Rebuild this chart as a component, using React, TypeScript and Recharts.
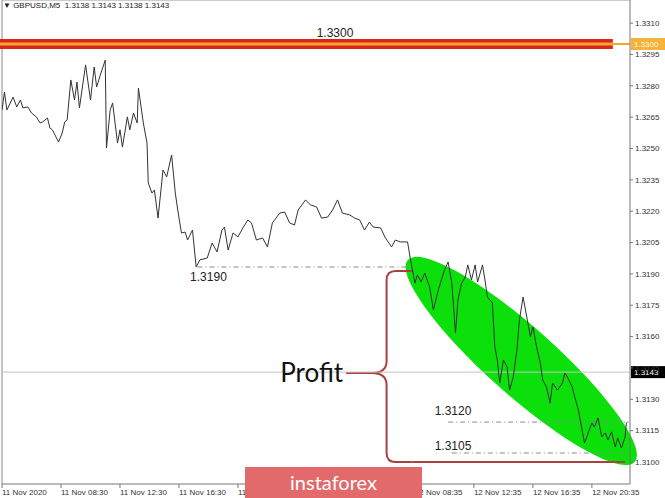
import React from 'react';
import { ComposedChart, Line, XAxis, YAxis, ReferenceLine, ReferenceArea, ReferenceDot } from 'recharts';

const headerText = 'GBPUSD,M5  1.3138 1.3143 1.3138 1.3143';

const timeTicks = [0, 48, 96, 144, 192, 240, 288, 336, 384, 432, 480];
const timeLabels = [
  '11 Nov 2020', '11 Nov 08:30', '11 Nov 12:30', '11 Nov 16:30', '11 Nov 20:30',
  '12 Nov 00:30', '12 Nov 04:35', '12 Nov 08:35', '12 Nov 12:35', '12 Nov 16:35', '12 Nov 20:35',
];

const priceTicks = [1.31, 1.3115, 1.313, 1.3145, 1.316, 1.3175, 1.319, 1.3205, 1.322, 1.3235, 1.325, 1.3265, 1.328, 1.3295, 1.331];

const bars = [
  0, 2, 4, 9, 12, 15, 17, 21, 24, 28,
  31, 33, 37, 39, 41, 46, 49, 51, 53, 56,
  59, 61, 63, 68, 72, 75, 77, 80, 84, 85,
  88, 90, 94, 96, 98, 102, 104, 107, 110, 111,
  115, 118, 119, 122, 124, 127, 131, 134, 138, 141,
  143, 146, 149, 151, 155, 158, 161, 167, 171, 175,
  179, 181, 184, 188, 192, 196, 200, 203, 207, 212,
  216, 220, 226, 230, 234, 238, 241, 247, 251, 256,
  260, 265, 269, 273, 277, 283, 287, 291, 295, 299,
  302, 308, 312, 317, 320, 324, 330, 332, 334, 336,
  338, 341, 344, 348, 351, 355, 358, 360, 363, 366,
  369, 371, 374, 377, 379, 382, 385, 387, 391, 393,
  395, 399, 401, 403, 405, 408, 411, 413, 416, 419,
  421, 424, 427, 430, 432, 435, 438, 440, 443, 446,
  448, 452, 456, 458, 460, 464, 466, 469, 472, 474,
  477, 480, 482, 485, 488, 491, 493, 496, 499, 501,
  504, 507, 508, 509,
];

const closes = [
  1.32684, 1.32770, 1.32684, 1.32746, 1.32699, 1.32732, 1.32694, 1.32699, 1.32670, 1.32651,
  1.32622, 1.32627, 1.32646, 1.32598, 1.32589, 1.32531, 1.32574, 1.32627, 1.32636, 1.32828,
  1.32732, 1.32818, 1.32694, 1.32900, 1.32732, 1.32890, 1.32794, 1.32852, 1.32923, 1.32502,
  1.32684, 1.32718, 1.32526, 1.32589, 1.32507, 1.32651, 1.32589, 1.32670, 1.32622, 1.32789,
  1.32622, 1.32526, 1.32335, 1.32287, 1.32301, 1.32167, 1.32397, 1.32364, 1.32469, 1.32287,
  1.32206, 1.32096, 1.32100, 1.32062, 1.32110, 1.31933, 1.31967, 1.31976, 1.32048, 1.32005,
  1.32110, 1.32124, 1.32014, 1.32096, 1.32077, 1.32120, 1.32158, 1.32144, 1.32062, 1.32072,
  1.32029, 1.32144, 1.32191, 1.32196, 1.32144, 1.32134, 1.32206, 1.32254, 1.32230, 1.32220,
  1.32167, 1.32172, 1.32206, 1.32254, 1.32191, 1.32182, 1.32167, 1.32158, 1.32110, 1.32148,
  1.32124, 1.32120, 1.32072, 1.32029, 1.32062, 1.32053, 1.32053, 1.31981, 1.31919, 1.31856,
  1.31895, 1.31861, 1.31904, 1.31837, 1.31727, 1.31823, 1.31880, 1.31919, 1.31957, 1.31856,
  1.31617, 1.31775, 1.31856, 1.31885, 1.31943, 1.31871, 1.31943, 1.31861, 1.31943, 1.31871,
  1.31789, 1.31761, 1.31550, 1.31488, 1.31378, 1.31488, 1.31455, 1.31344, 1.31407, 1.31536,
  1.31679, 1.31789, 1.31694, 1.31598, 1.31646, 1.31550, 1.31474, 1.31392, 1.31359, 1.31282,
  1.31378, 1.31344, 1.31378, 1.31426, 1.31407, 1.31359, 1.31311, 1.31249, 1.31153, 1.31091,
  1.31139, 1.31187, 1.31167, 1.31211, 1.31120, 1.31139, 1.31105, 1.31144, 1.31072, 1.31115,
  1.31067, 1.31120, 1.31187, 1.31191,
];

const resistanceLevel = 1.33;
const resistanceLabel = '1.3300';
const lastPrice = 1.3143;
const lastPriceLabel = '1.3143';
const swingLow = 1.31933;
const swingLowLabel = '1.3190';
const target1 = 1.31191;
const target1Label = '1.3120';
const target2 = 1.31043;
const target2Label = '1.3105';
const profitBottom = 1.31;
const profitTop = 1.31914;
const profitTip = 1.31426;
const profitText = 'Profit';

const X_DOMAIN: [number, number] = [0, 511];
const Y_DOMAIN: [number, number] = [1.308947, 1.332105];

const data = bars.map((b, i) => ({ bar: b, close: closes[i] }));

const AXIS_FONT = "'Liberation Sans', Arial, sans-serif";

const XTick = (props: any) => {
  const { x, y, payload } = props;
  const idx = timeTicks.indexOf(payload.value);
  return (
    <text x={x} y={y} dy="0.71em" textAnchor="start" fontSize={8} fontFamily={AXIS_FONT} fill="#333">
      {timeLabels[idx]}
    </text>
  );
};

const EllipseShape = (props: any) => {
  const { x, y, width, height } = props;
  const cx = x + width / 2;
  const cy = y + height / 2;
  const ang = (Math.atan2(height, width) * 180) / Math.PI;
  const rx = Math.sqrt(width * width + height * height) / 2 + 3;
  return <ellipse cx={cx} cy={cy} rx={rx} ry={34} fill="#0be00b" transform={`rotate(${ang} ${cx} ${cy})`} />;
};

const BraceShape = (props: any) => {
  const { x, y, width, height } = props;
  const vx = x + width * 0.61;
  const tipY = y + height * 0.534;
  const r = 9;
  const d = [
    `M ${x + width} ${y}`,
    `L ${vx + r} ${y}`,
    `Q ${vx} ${y} ${vx} ${y + r}`,
    `L ${vx} ${tipY - 12}`,
    `Q ${vx} ${tipY} ${vx - 15} ${tipY}`,
    `L ${x} ${tipY}`,
    `M ${vx - 15} ${tipY}`,
    `Q ${vx} ${tipY} ${vx} ${tipY + 12}`,
    `L ${vx} ${y + height - r}`,
    `Q ${vx} ${y + height} ${vx + r} ${y + height}`,
    `L ${x + width} ${y + height}`,
  ].join(' ');
  return <path d={d} fill="none" stroke="#a9423f" strokeWidth={2} />;
};

const AxisBox = (bg: string, fg: string, text: string) => (props: any) => {
  const vb = props.viewBox || {};
  const right = (vb.x || 0) + (vb.width || 0);
  const cy = vb.y || 0;
  return (
    <g>
      <rect x={right + 1} y={cy - 6} width={34} height={12} fill={bg} />
      <text x={right + 4} y={cy + 3} fontSize={8} fontFamily={AXIS_FONT} fill={fg}>
        {text}
      </text>
    </g>
  );
};

const dashStyle = '5 3 1 3';
const labelFont = "'Liberation Sans', Arial, sans-serif";

export default function App() {
  return (
    <div style={{ position: 'absolute', left: 0, top: 0, width: 665, height: 498, background: '#fff' }}>
      <ComposedChart
        width={665}
        height={498}
        data={data}
        margin={{ top: 0, right: 0, bottom: 0, left: 2 }}
      >
        <XAxis
          dataKey="bar"
          type="number"
          domain={X_DOMAIN}
          ticks={timeTicks}
          interval={0}
          height={14}
          tickSize={4}
          tickMargin={1}
          tick={<XTick />}
          stroke="#777"
          allowDataOverflow
        />
        <YAxis
          orientation="right"
          type="number"
          domain={Y_DOMAIN}
          ticks={priceTicks}
          interval={0}
          width={35}
          tickSize={3}
          tickMargin={2}
          tickFormatter={(v: number) => v.toFixed(4)}
          tick={{ fontSize: 8, fill: '#333', fontFamily: AXIS_FONT }}
          stroke="#777"
          allowDataOverflow
        />
        <ReferenceLine x={0} stroke="#888" strokeWidth={1} />
        <ReferenceLine y={Y_DOMAIN[1]} stroke="#999" strokeWidth={1} />

        <ReferenceArea
          x1={332}
          x2={513}
          y1={1.3101}
          y2={1.31957}
          ifOverflow="visible"
          shape={<EllipseShape />}
        />

        <ReferenceLine y={lastPrice} stroke="#c4c4c4" strokeWidth={1} label={AxisBox('#000', '#fff', lastPriceLabel)} />

        <ReferenceLine
          segment={[{ x: 159, y: swingLow }, { x: 334, y: swingLow }]}
          stroke="#8a8a8a"
          strokeDasharray={dashStyle}
        />
        <ReferenceLine
          segment={[{ x: 363, y: target1 }, { x: 510, y: target1 }]}
          stroke="#8a8a8a"
          strokeDasharray={dashStyle}
        />
        <ReferenceLine
          segment={[{ x: 366, y: target2 }, { x: 509, y: target2 }]}
          stroke="#8a8a8a"
          strokeDasharray={dashStyle}
        />

        <Line
          dataKey="close"
          type="linear"
          stroke="#333"
          strokeWidth={1}
          dot={false}
          isAnimationActive={false}
        />

        <ReferenceArea
          x1={280}
          x2={334}
          y1={profitBottom}
          y2={profitTop}
          ifOverflow="visible"
          shape={<BraceShape />}
        />
        <ReferenceLine
          segment={[{ x: 334, y: profitBottom }, { x: 507, y: profitBottom }]}
          stroke="#a9423f"
          strokeWidth={2}
        />

        <ReferenceLine
          segment={[{ x: -2, y: resistanceLevel }, { x: 497, y: resistanceLevel }]}
          stroke="#d9261c"
          strokeWidth={10}
          ifOverflow="visible"
        />
        <ReferenceLine
          y={resistanceLevel}
          stroke="#f5a623"
          strokeWidth={2}
          label={AxisBox('#f4b43c', '#fff4dc', resistanceLabel)}
        />
        <ReferenceLine
          segment={[{ x: -2, y: resistanceLevel }, { x: 497, y: resistanceLevel }]}
          stroke="#f7a52c"
          strokeWidth={3}
          ifOverflow="visible"
        />

        <ReferenceDot
          x={271}
          y={resistanceLevel}
          r={0}
          fill="none"
          stroke="none"
          label={{ value: resistanceLabel, position: 'top', offset: 7, fontSize: 12, fill: '#222', fontFamily: labelFont }}
        />
        <ReferenceDot
          x={168}
          y={swingLow}
          r={0}
          fill="none"
          stroke="none"
          label={{ value: swingLowLabel, position: 'bottom', offset: 5, fontSize: 12, fill: '#222', fontFamily: labelFont }}
        />
        <ReferenceDot
          x={367}
          y={target1}
          r={0}
          fill="none"
          stroke="none"
          label={{ value: target1Label, position: 'top', offset: 7, fontSize: 12, fill: '#222', fontFamily: labelFont }}
        />
        <ReferenceDot
          x={367}
          y={target2}
          r={0}
          fill="none"
          stroke="none"
          label={{ value: target2Label, position: 'top', offset: 3, fontSize: 12, fill: '#222', fontFamily: labelFont }}
        />
        <ReferenceDot
          x={280}
          y={profitTip}
          r={0}
          fill="none"
          stroke="none"
          label={{ value: profitText, position: 'left', offset: 3, fontSize: 26, fill: '#111', fontFamily: "Lato, 'Open Sans', sans-serif" }}
        />
      </ComposedChart>

      <div
        style={{
          position: 'absolute',
          left: 3,
          top: 1,
          fontSize: 8,
          fontFamily: AXIS_FONT,
          color: '#222',
          whiteSpace: 'pre',
          lineHeight: '10px',
        }}
      >
        {'\u25BC '}
        {headerText}
      </div>

      <div
        style={{
          position: 'absolute',
          left: 245,
          top: 467,
          width: 177,
          height: 31,
          background: '#e26a6a',
          color: '#fff',
          fontFamily: "Lato, 'Open Sans', sans-serif",
          fontSize: 20,
          lineHeight: '30px',
          textAlign: 'center',
        }}
      >
        instaforex
      </div>
    </div>
  );
}
